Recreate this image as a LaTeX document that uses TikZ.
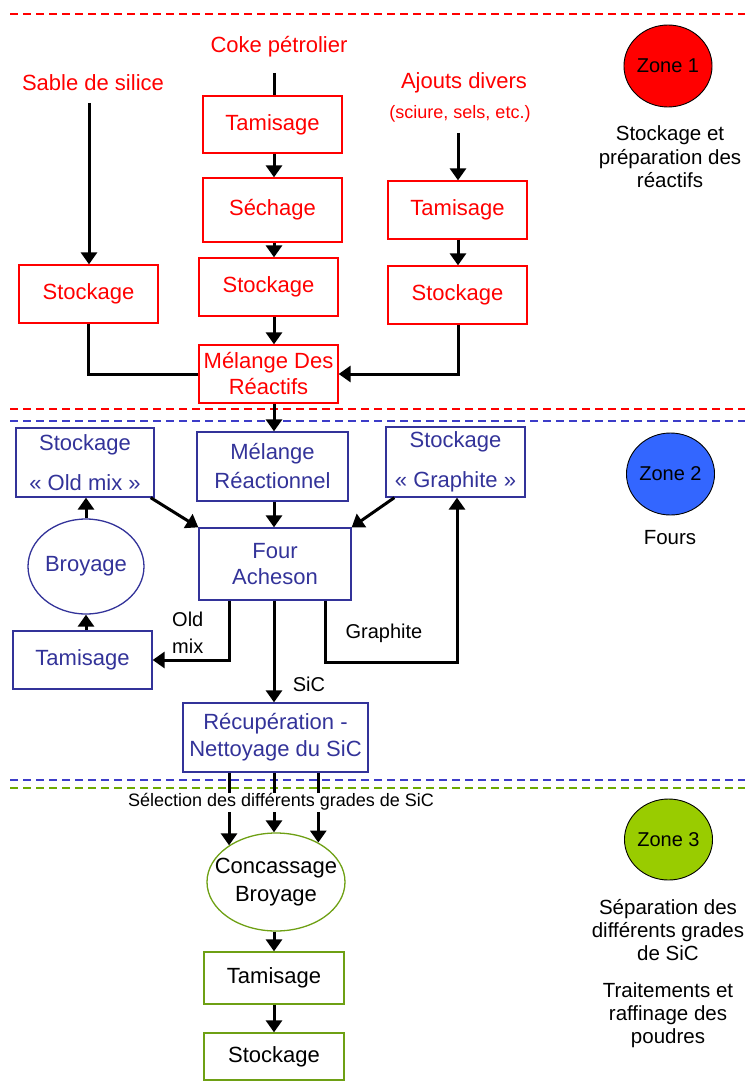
\documentclass[tikz,border=0pt]{standalone}
\usepackage{fontspec}
\setmainfont{Liberation Sans}
\usetikzlibrary{arrows.meta,shapes.geometric,calc}
\definecolor{zred}{RGB}{255,0,0}
\definecolor{zblue}{RGB}{51,51,153}
\definecolor{zbluedash}{RGB}{60,60,200}
\definecolor{zgreen}{RGB}{110,160,20}
\definecolor{zgreendash}{RGB}{110,170,0}
\definecolor{zonetwo}{RGB}{51,102,255}
\definecolor{zonethree}{RGB}{153,204,0}
\newcommand{\fsz}[2]{\fontsize{#1}{#2}\selectfont}
\begin{document}
\begin{tikzpicture}[x=1pt,y=-1pt,
  boxbase/.style={draw, line width=1.3pt, inner sep=0pt, minimum width=139pt, minimum height=58pt, align=center, font=\fsz{22}{26}},
  rbox/.style={boxbase, draw=zred, text=zred},
  bbox/.style={boxbase, draw=zblue, text=zblue},
  gbox/.style={boxbase, draw=zgreen, text=black, minimum width=140pt},
  rtxt/.style={text=zred, font=\fsz{22}{26}, inner sep=0pt},
  lbl/.style={text=black, font=\fsz{20}{27}, inner sep=0pt, align=left},
  arr/.style={line width=3pt, -{Triangle[width=16pt,length=12pt]}},
  link/.style={line width=3pt},
  dashR/.style={draw=zred, line width=1.4pt, dash pattern=on 8pt off 5pt},
  dashB/.style={draw=zbluedash, line width=1.4pt, dash pattern=on 8pt off 5pt},
  dashG/.style={draw=zgreendash, line width=1.4pt, dash pattern=on 8pt off 5pt},
  zone/.style={ellipse, draw=black, line width=0.9pt, minimum width=83pt, inner sep=0pt, font=\fsz{20}{22}},
  side/.style={align=center, inner sep=0pt},
  ellb/.style={ellipse, draw=zblue, line width=1.3pt, inner sep=0pt, minimum width=116pt, minimum height=95pt, text=zblue, font=\fsz{22}{26}},
  ellg/.style={ellipse, draw=zgreen, line width=1.3pt, inner sep=0pt, minimum width=138pt, minimum height=98pt}
]
\useasboundingbox (0,0) rectangle (745,1086);

% zone separators
\draw[dashR] (10,14) -- (745,14);
\draw[dashR] (10,409) -- (745,409);
\draw[dashB] (10,421) -- (745,421);
\draw[dashB] (10,780) -- (745,780);
\draw[dashG] (10,788) -- (745,788);

% zone legend
\node[zone, fill=zred, minimum height=82pt] (z1) at (668,66) {Zone 1};
\node[zone, fill=zonetwo, minimum height=82pt] (z2) at (670.5,474) {Zone 2};
\node[zone, fill=zonethree, minimum height=81pt] (z3) at (668.5,839.5) {Zone 3};
\node[side, font=\fsz{20.5}{23.5}] (d1) at (670,157) {Stockage et\\préparation des\\réactifs};
\node[side, font=\fsz{20.5}{24}] (d2) at (670,538) {Fours};
\node[side, font=\fsz{20.5}{23}] (d3) at (668,930) {Séparation des\\différents grades\\de SiC};
\node[side, font=\fsz{20.5}{23}] (d4) at (668,1015) {Traitements et\\raffinage des\\poudres};

% ---------- Zone 1 ----------
\node[rtxt] (coke) at (279,47) {Coke pétrolier};
\node[rtxt] (sable) at (93,83) {Sable de silice};
\node[rtxt] (ajouts) at (464,83) {Ajouts divers};
\node[rtxt, font=\fsz{18}{20}] (sciure) at (460,114) {(sciure, sels, etc.)};
\coordinate (cokeTop) at (274,73);
\coordinate (sableTop) at (89,103);
\coordinate (ajTop) at (458,133);

\node[rbox, minimum height=57pt] (tam1) at (272.5,124.5) {Tamisage};
\node[rbox, minimum height=64pt] (sech) at (272.5,210) {Séchage};
\node[rbox] (stk1) at (268.5,287) {Stockage};
\node[rbox] (mel) at (268.5,374) {Mélange Des\\Réactifs};
\node[rbox] (stkS) at (88.5,294) {Stockage};
\node[rbox] (tamA) at (457.5,210) {Tamisage};
\node[rbox] (stkA) at (457.5,295) {Stockage};

\draw[link] (cokeTop) -- (cokeTop |- tam1.north);
\draw[arr] (tam1.south -| cokeTop) -- (sech.north -| cokeTop);
\draw[arr] (sech.south -| cokeTop) -- (stk1.north -| cokeTop);
\draw[arr] (stk1.south -| cokeTop) -- (mel.north -| cokeTop);
\draw[arr] (sableTop) -- (sableTop |- stkS.north);
\draw[link] (stkS.south) |- (mel.west);
\draw[arr] (ajTop) -- (ajTop |- tamA.north);
\draw[arr] (tamA.south -| ajTop) -- (stkA.north -| ajTop);
\draw[arr] (stkA.south -| ajTop) |- (mel.east);

% ---------- Zone 2 ----------
\node[bbox, minimum width=138pt, minimum height=69pt, font=\fsz{22}{40}] (oldmix) at (85,462.5) {Stockage\\« Old mix »};
\node[bbox, minimum width=151pt, minimum height=69pt, font=\fsz{22}{29}] (melR) at (272.5,466.5) {Mélange\\Réactionnel};
\node[bbox, minimum width=139pt, minimum height=70pt, font=\fsz{22}{40}] (stkG) at (455.5,462) {Stockage\\« Graphite »};
\node[bbox, minimum width=152pt, minimum height=72pt] (four) at (275,564) {Four\\Acheson};
\node[ellb] (broy) at (86,566.5) {Broyage};
\node[bbox] (tam2) at (82.5,660) {Tamisage};
\node[bbox, minimum width=185pt, minimum height=69pt, font=\fsz{22}{27}] (recup) at (275.5,737.5) {Récupération -\\Nettoyage du SiC};

\draw[arr] (mel.south -| cokeTop) -- (melR.north -| cokeTop);
\draw[arr] (broy.north) -- (broy.north |- oldmix.south);
\draw[arr] (broy.south |- tam2.north) -- (broy.south);
\draw[arr] ([xshift=-4pt]oldmix.south east) -- (four.north west);
\draw[arr] ([xshift=9pt]stkG.south west) -- (four.north east);
\draw[arr] (melR.south -| cokeTop) -- (four.north -| cokeTop);
\coordinate (gturn) at (457,662);
\draw[arr] ([xshift=-46pt]four.south) |- (tam2.east);
\draw[arr] ([xshift=50pt]four.south) |- (gturn) -- (gturn |- stkG.south);
\draw[arr] (four.south -| cokeTop) -- (recup.north -| cokeTop);
\node[lbl, anchor=west] (oldlbl) at (172,632.5) {Old\\mix};
\node[lbl] (glbl) at (384,633) {Graphite};
\node[lbl] (siclbl) at (309,684) {SiC};

% ---------- Zone 3 ----------
\node[ellg, label={[align=center, font=\fsz{22}{28}, text=black]center:Concassage\\Broyage}] (conc) at (276,882) {};
\node[gbox, minimum height=52pt] (tam3) at (274,978) {Tamisage};
\node[gbox, minimum height=47pt] (stk3) at (274,1056.5) {Stockage};

\draw[arr] (conc.142.6 |- recup.south) -- (conc.142.6);
\draw[arr] (recup.south -| cokeTop) -- (conc.north -| cokeTop);
\draw[arr] (conc.43.9 |- recup.south) -- (conc.43.9);
\node[fill=white, inner sep=1pt, font=\fsz{18}{20}] (sel) at (281,802) {Sélection des différents grades de SiC};
\draw[arr] (conc.south -| cokeTop) -- (tam3.north -| cokeTop);
\draw[arr] (tam3.south -| cokeTop) -- (stk3.north -| cokeTop);
\end{tikzpicture}
\end{document}
